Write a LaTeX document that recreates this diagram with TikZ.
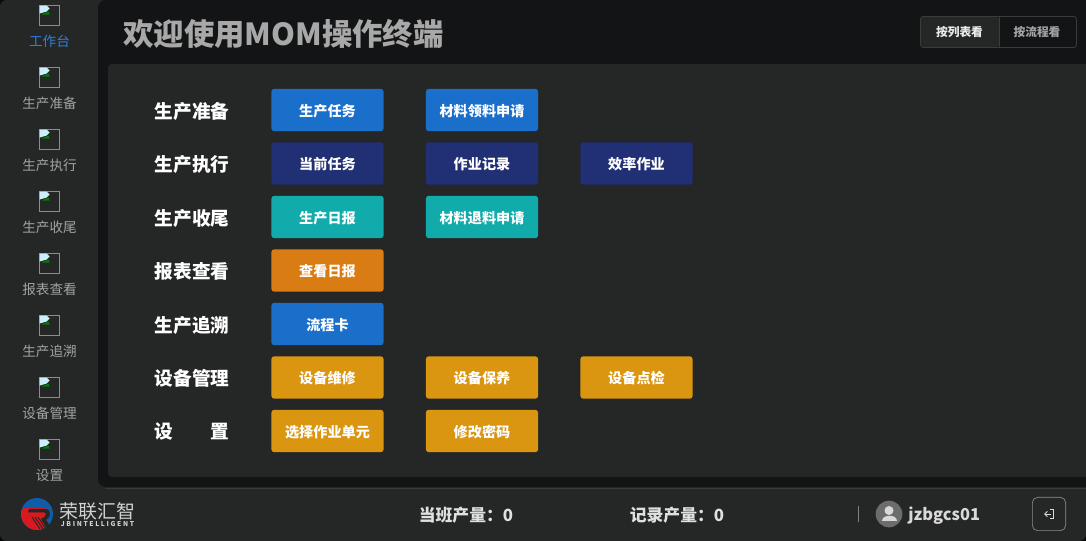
\documentclass[tikz,border=0pt]{standalone}
\usepackage{fontspec}
\usetikzlibrary{arrows.meta}
\setmainfont{Noto Sans CJK SC}
\definecolor{shell}{HTML}{252626}
\definecolor{deep}{HTML}{131415}
\definecolor{edgeg}{HTML}{3A3B3B}
\definecolor{blueb}{HTML}{1A6FCB}
\definecolor{navyb}{HTML}{212F74}
\definecolor{tealb}{HTML}{11ABAB}
\definecolor{orangeb}{HTML}{D97C14}
\definecolor{goldb}{HTML}{DB9611}
\definecolor{navtext}{HTML}{A3A3A3}
\definecolor{navact}{HTML}{2F7FE0}
\definecolor{titleg}{HTML}{A8A8A8}
\definecolor{logored}{HTML}{D71920}
\definecolor{logoblue}{HTML}{0F5CA8}
\newcommand{\fs}[1]{\fontsize{#1}{#1}\selectfont}
\newcommand{\bt}[1]{\raisebox{-4.6pt}[0pt][0pt]{#1}}
\tikzset{
  btn/.style={fill=#1,rounded corners=2.2pt,minimum width=84.2pt,minimum height=31.8pt,inner sep=0,text=white,font=\fs{10.6}\bfseries},
  rowlabel/.style={text=white,font=\fs{14}\bfseries,inner sep=0},
  navlabel/.style={text=navtext,font=\fs{10.2},inner sep=0},
  icobox/.style={draw=gray!90,line width=0.7pt,minimum size=15pt,inner sep=0},
  stat/.style={text=white!88!black,font=\fs{12.6}\bfseries,inner sep=0}
}
\newcommand{\brokenimg}[2]{%
  \node[icobox] (#1) at (#2) {};
  \fill[white!80!cyan] ([shift={(1,1)}]#1.north west) -- ++(7,0) -- ++(3,3) -- ++(-3,3) -- ++(-7,2) -- cycle;
  \fill[green!50!black] ([shift={(3,10)}]#1.north west) -- ++(7,-3) -- ++(1,3) -- cycle;
}
\begin{document}
\begin{tikzpicture}[x=0.75pt,y=-0.75pt]
\useasboundingbox (0,0) rectangle (1086,541);
\fill[black!80!shell] (0,0) rectangle (1086,541);
\fill[shell,rounded corners=5pt] (0,0) rectangle (1086,541);
% main dark area
\fill[deep,rounded corners=6pt] (98,0) -- (1100,0) -- (1100,487) -- (98,487) -- cycle;
\fill[shell,rounded corners=3pt] (108,64) -- (1100,64) -- (1100,477) -- (108,477) -- cycle;
\draw[edgeg,line width=0.6pt] (105,488) -- (1086,488);
% side navigation
\brokenimg{i1}{49,15}
\node[navlabel,text=navact] (n1) at (49.5,41) {工作台};
\brokenimg{i2}{49,77}
\node[navlabel] (n2) at (49.5,103) {生产准备};
\brokenimg{i3}{49,139}
\node[navlabel] (n3) at (49.5,165) {生产执行};
\brokenimg{i4}{49,201}
\node[navlabel] (n4) at (49.5,227) {生产收尾};
\brokenimg{i5}{49,263}
\node[navlabel] (n5) at (49.5,289) {报表查看};
\brokenimg{i6}{49,325}
\node[navlabel] (n6) at (49.5,351) {生产追溯};
\brokenimg{i7}{49,387}
\node[navlabel] (n7) at (49.5,413) {设备管理};
\brokenimg{i8}{49,449}
\node[navlabel] (n8) at (49.5,475) {设置};
% title
\node[text=titleg,font=\fs{22.8}\bfseries,inner sep=0,anchor=west] (title) at (123,33.5) {欢迎使用MOM操作终端};
% toggle
\fill[shell,rounded corners=2pt] (921,17) -- (999,17) -- (999,47) -- (921,47) -- cycle;
\draw[edgeg,rounded corners=2pt,line width=0.6pt] (920.5,16.5) rectangle (1076.5,47.5);
\draw[edgeg,line width=0.6pt] (999,17) -- (999,47);
\node[text=white!92!black,font=\fs{8.8}\bfseries,inner sep=0] (t1) at (959.5,32.5) {按列表看};
\node[text=navtext,font=\fs{8.8}\bfseries,inner sep=0] (t2) at (1037,32.5) {按流程看};
% rows
\node[rowlabel] (r1) at (192,111) {生产准备};
\node[rowlabel] (r2) at (192,164) {生产执行};
\node[rowlabel] (r3) at (192,218) {生产收尾};
\node[rowlabel] (r4) at (192,271) {报表查看};
\node[rowlabel] (r5) at (192,325) {生产追溯};
\node[rowlabel] (r6) at (192,378) {设备管理};
\node[rowlabel] (r7a) at (164,431.5) {设};
\node[rowlabel] (r7b) at (220,431.5) {置};
% buttons
\node[btn=blueb] (b11) at (327.5,110) {\bt{生产任务}};
\node[btn=blueb] (b12) at (482,110) {\bt{材料领料申请}};
\node[btn=navyb] (b21) at (327.5,163.5) {\bt{当前任务}};
\node[btn=navyb] (b22) at (482,163.5) {\bt{作业记录}};
\node[btn=navyb] (b23) at (636.5,163.5) {\bt{效率作业}};
\node[btn=tealb] (b31) at (327.5,217) {\bt{生产日报}};
\node[btn=tealb] (b32) at (482,217) {\bt{材料退料申请}};
\node[btn=orangeb] (b41) at (327.5,270.5) {\bt{查看日报}};
\node[btn=blueb] (b51) at (327.5,324) {\bt{流程卡}};
\node[btn=goldb] (b61) at (327.5,377.5) {\bt{设备维修}};
\node[btn=goldb] (b62) at (482,377.5) {\bt{设备保养}};
\node[btn=goldb] (b63) at (636.5,377.5) {\bt{设备点检}};
\node[btn=goldb] (b71) at (327.5,431) {\bt{选择作业单元}};
\node[btn=goldb] (b72) at (482,431) {\bt{修改密码}};
% logo
\fill[logoblue] (37,514) circle[radius=16];
\begin{scope}
\clip (37,514) circle[radius=16];
\fill[logored] (19,512) -- (24,508) -- (46,508) -- (46,520) -- (56,534) -- (19,534) -- cycle;
\end{scope}
\fill[shell] (29,509) -- (45,509) .. controls (49,509) and (50,511) .. (50,514) .. controls (50,517) and (48,519) .. (46,520) -- (50,526) -- (47,529) -- (41,519) .. controls (44,518) and (46,516) .. (46,514) .. controls (46,513) and (45,512.5) .. (44,512.5) -- (28,512.5) -- cycle;
\foreach \d in {0,3,6} \draw[shell,line width=0.7pt] (32+\d,517) -- (40+\d,529);
\node[text=white!82!black,font=\fs{14.2},inner sep=0] (logotxt) at (97.5,511.5) {荣联汇智};
\node[text=white!82!black,font=\fs{5}\bfseries\addfontfeature{LetterSpace=25},inner sep=0] (logosub) at (97.5,524.5) {JBINTELLIGENT};
% status
\node[stat] (s1) at (466,515.5) {当班产量：0};
\node[stat] (s2) at (677,515.5) {记录产量：0};
\draw[gray,line width=0.6pt] (858,506) -- (858,522);
\node[circle,fill=gray!85!black,minimum size=20pt,inner sep=0] (av) at (889,514) {};
\fill[white!85!black] (889,510.5) circle[radius=4.5];
\fill[white!85!black] (881.5,521) .. controls (881.5,514) and (896.5,514) .. (896.5,521) -- cycle;
\node[text=white!85!black,font=\fs{12.3}\bfseries,inner sep=0,anchor=west] (user) at (908,516) {jzbgcs01};
\node[draw=gray!90,rounded corners=4pt,line width=0.5pt,minimum width=25pt,minimum height=25pt,inner sep=0] (logout) at (1049,514) {};
\draw[white!85!black,line width=0.7pt] (1050,509.5) -- (1053.5,509.5) -- (1053.5,518.5) -- (1050,518.5);
\draw[white!85!black,line width=0.7pt,-{Straight Barb[length=2pt,width=4pt]}] (1051,514) -- (1044,514);
\end{tikzpicture}
\end{document}
